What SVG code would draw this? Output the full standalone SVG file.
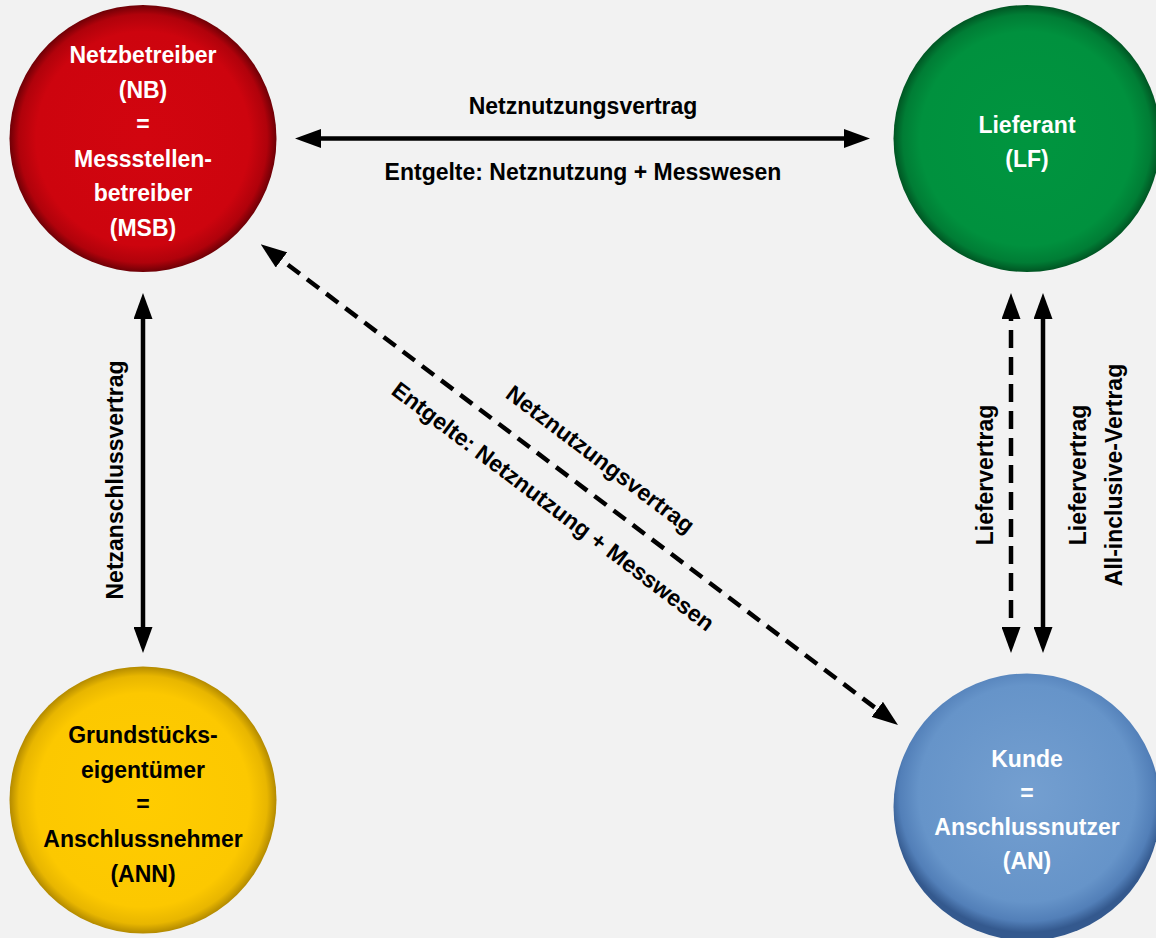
<svg xmlns="http://www.w3.org/2000/svg" width="1156" height="938" viewBox="0 0 1156 938">
<defs>
<radialGradient id="gRed" cx="50%" cy="50%" r="50%">
<stop offset="0" stop-color="#d2050f"/><stop offset="0.8" stop-color="#cd040e"/><stop offset="0.93" stop-color="#b0020b"/><stop offset="1" stop-color="#6e0006"/>
</radialGradient>
<radialGradient id="gGreen" cx="50%" cy="50%" r="50%">
<stop offset="0" stop-color="#00953f"/><stop offset="0.8" stop-color="#00913e"/><stop offset="0.93" stop-color="#007d35"/><stop offset="1" stop-color="#005523"/>
</radialGradient>
<radialGradient id="gYellow" cx="50%" cy="50%" r="50%">
<stop offset="0" stop-color="#ffcc00"/><stop offset="0.8" stop-color="#fcc800"/><stop offset="0.93" stop-color="#e8b600"/><stop offset="1" stop-color="#b38a00"/>
</radialGradient>
<radialGradient id="gBlue" cx="50%" cy="45%" r="52%">
<stop offset="0" stop-color="#749fd0"/><stop offset="0.78" stop-color="#6694c9"/><stop offset="0.92" stop-color="#527fb8"/><stop offset="1" stop-color="#34598e"/>
</radialGradient>
<marker id="arr" markerUnits="userSpaceOnUse" markerWidth="26" markerHeight="19" refX="16" refY="9.5" orient="auto-start-reverse" viewBox="0 0 26 19">
<path d="M0,0 L26,9.5 L0,19 Z" fill="#000"/>
</marker>
<style>
.t{font-family:"Liberation Sans",Arial,sans-serif;font-weight:bold;font-size:23px;text-anchor:middle}
.w{fill:#fff}
.k{fill:#000}
.ln{stroke:#000;stroke-width:4.5;fill:none}
.dash{stroke-dasharray:15 9}
.vdash{stroke-dasharray:18 9}
</style>
</defs>
<rect width="1156" height="938" fill="#f2f2f2"/>

<g id="connectors">
<line class="ln" x1="305" y1="138.5" x2="860" y2="138.5" marker-start="url(#arr)" marker-end="url(#arr)"/>
<line class="ln" x1="143" y1="303" x2="143" y2="643" marker-start="url(#arr)" marker-end="url(#arr)"/>
<line class="ln vdash" x1="1011" y1="303" x2="1011" y2="643" marker-start="url(#arr)" marker-end="url(#arr)"/>
<line class="ln" x1="1043" y1="303" x2="1043" y2="643" marker-start="url(#arr)" marker-end="url(#arr)"/>
<line class="ln dash" x1="268.7" y1="250.3" x2="890" y2="719" marker-start="url(#arr)" marker-end="url(#arr)"/>
<text class="t k" x="583" y="114">Netznutzungsvertrag</text>
<text class="t k" x="583" y="180">Entgelte: Netznutzung + Messwesen</text>
<text class="t k" transform="translate(123,480) rotate(-90)">Netzanschlussvertrag</text>
<text class="t k" transform="translate(993,475) rotate(-90)">Liefervertrag</text>
<text class="t k" transform="translate(1086,475) rotate(-90)">Liefervertrag</text>
<text class="t k" transform="translate(1122,475) rotate(-90)">All-inclusive-Vertrag</text>
<g transform="translate(579.4,484.7) rotate(37.03)">
<text class="t k" x="1.5" y="-25">Netznutzungsvertrag</text>
<text class="t k" x="-8" y="41">Entgelte: Netznutzung + Messwesen</text>
</g>
</g>

<g id="nb">
<circle cx="143" cy="138.5" r="133.5" fill="url(#gRed)"/>
<text class="t w" x="143" y="63">Netzbetreiber</text>
<text class="t w" x="143" y="98">(NB)</text>
<text class="t w" x="143" y="132">=</text>
<text class="t w" x="143" y="167">Messstellen-</text>
<text class="t w" x="143" y="201">betreiber</text>
<text class="t w" x="143" y="236">(MSB)</text>
</g>

<g id="lf">
<circle cx="1027" cy="138.5" r="133.5" fill="url(#gGreen)"/>
<text class="t w" x="1027" y="133">Lieferant</text>
<text class="t w" x="1027" y="167">(LF)</text>
</g>

<g id="ann">
<circle cx="143" cy="800" r="133.5" fill="url(#gYellow)"/>
<text class="t k" x="143" y="743">Grundstücks-</text>
<text class="t k" x="143" y="778">eigentümer</text>
<text class="t k" x="143" y="812">=</text>
<text class="t k" x="143" y="847">Anschlussnehmer</text>
<text class="t k" x="143" y="882">(ANN)</text>
</g>

<g id="an">
<circle cx="1027" cy="807" r="133.5" fill="url(#gBlue)"/>
<text class="t w" x="1027" y="767">Kunde</text>
<text class="t w" x="1027" y="801">=</text>
<text class="t w" x="1027" y="835">Anschlussnutzer</text>
<text class="t w" x="1027" y="869">(AN)</text>
</g>
</svg>
